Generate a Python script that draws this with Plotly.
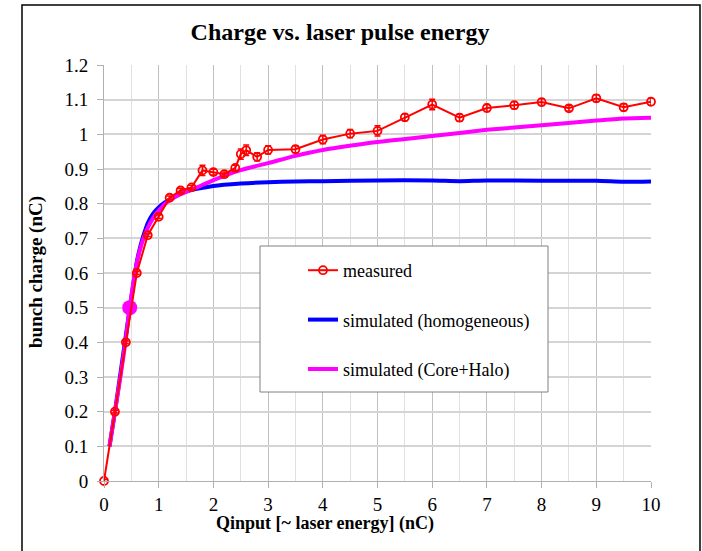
import plotly.graph_objects as go

# ---- data ----
meas_x = [0, 0.2, 0.4, 0.6, 0.8, 1.0, 1.2, 1.4, 1.6, 1.8, 2.0, 2.2, 2.4, 2.5, 2.6, 2.8,
          3.0, 3.5, 4.0, 4.5, 5.0, 5.5, 6.0, 6.5, 7.0, 7.5, 8.0, 8.5, 9.0, 9.5, 10.0]
meas_y = [0.0, 0.2, 0.4, 0.6, 0.709, 0.762, 0.817, 0.838, 0.847, 0.896, 0.891, 0.885, 0.903,
          0.943, 0.954, 0.935, 0.955, 0.957, 0.985, 1.002, 1.01, 1.049, 1.086, 1.048, 1.076,
          1.084, 1.093, 1.075, 1.104, 1.078, 1.094]
meas_err = [0.004, 0.004, 0.004, 0.004, 0.004, 0.005, 0.005, 0.006, 0.006, 0.015, 0.008, 0.006,
            0.008, 0.015, 0.015, 0.012, 0.012, 0.01, 0.012, 0.012, 0.015, 0.01, 0.015, 0.01,
            0.01, 0.01, 0.01, 0.008, 0.01, 0.01, 0.01]

hom_x = [0.1, 0.2, 0.3, 0.4, 0.5, 0.6, 0.65, 0.7, 0.75, 0.8, 0.9, 1.0, 1.1, 1.2, 1.5, 2.0,
         2.5, 3.0, 3.5, 4.0, 5.0, 6.0, 6.5, 7.0, 8.0, 9.0, 9.5, 10.0]
hom_y = [0.1, 0.2, 0.31, 0.42, 0.53, 0.632, 0.668, 0.697, 0.722, 0.744, 0.772, 0.789, 0.802,
         0.812, 0.835, 0.851, 0.858, 0.862, 0.864, 0.865, 0.867, 0.867, 0.865, 0.867, 0.866,
         0.866, 0.863, 0.864]

ch_x = [0.1, 0.2, 0.3, 0.4, 0.47, 0.6, 0.7, 0.8, 0.9, 1.0, 1.2, 1.4, 1.7, 2.0, 2.5, 3.0,
        3.5, 4.0, 5.0, 6.0, 7.0, 8.0, 9.0, 9.5, 10.0]
ch_y = [0.1, 0.2, 0.3, 0.41, 0.5, 0.63, 0.69, 0.73, 0.759, 0.78, 0.81, 0.827, 0.847, 0.868,
        0.897, 0.917, 0.938, 0.955, 0.978, 0.995, 1.013, 1.026, 1.04, 1.046, 1.048]
ch_mark_idx = 4

names = ["measured", "simulated (homogeneous)", "simulated (Core+Halo)"]
title = "Charge vs. laser pulse energy"
xlabel = "Qinput [~ laser energy] (nC)"
ylabel = "bunch charge (nC)"

# ---- layout geometry ----
W, H = 702, 551
L, R, T, B = 104, 651, 65, 481
def px(x):
    return (x - L) / (R - L)
def py(y):
    return (B - y) / (B - T)

FONT = "Liberation Serif"

fig = go.Figure()
fig.add_trace(go.Scatter(x=hom_x, y=hom_y, mode="lines", name=names[1],
                         line=dict(color="#0000ff", width=4, shape="spline", smoothing=0.6),
                         legendrank=2, legendgroup="b"))
fig.add_trace(go.Scatter(x=ch_x, y=ch_y, mode="lines", name=names[2],
                         line=dict(color="#ff00ff", width=4, shape="spline", smoothing=0.6),
                         legendrank=3, legendgroup="c"))
fig.add_trace(go.Scatter(x=[ch_x[ch_mark_idx]], y=[ch_y[ch_mark_idx]], mode="markers",
                         marker=dict(color="#ff00ff", size=15), showlegend=False))
fig.add_trace(go.Scatter(x=meas_x, y=meas_y, mode="lines+markers", name=names[0],
                         line=dict(color="#ff0000", width=2), cliponaxis=False,
                         marker=dict(symbol="circle-open", size=8, color="#ff0000",
                                     line=dict(width=1.8, color="#ff0000")),
                         error_y=dict(type="data", array=meas_err, color="#ff0000",
                                      thickness=1.5, width=3),
                         legendrank=1, legendgroup="a"))

fig.update_layout(
    width=W, height=H,
    margin=dict(l=L, r=W - R, t=T, b=H - B),
    paper_bgcolor="white", plot_bgcolor="white",
    font=dict(family=FONT, color="black", size=16),
    title=dict(text="<b>" + title + "</b>", x=340 / W, xref="container", xanchor="center",
               y=1 - 32 / H, yref="container", yanchor="middle",
               font=dict(family=FONT, size=24, color="black")),
    showlegend=True,
    legend=dict(x=px(303), y=py(252), xanchor="left", yanchor="top",
                bgcolor="rgba(0,0,0,0)", borderwidth=0,
                font=dict(family=FONT, size=18, color="black"),
                tracegroupgap=23, itemwidth=30),
)
fig.update_xaxes(range=[0, 10], dtick=1, tick0=0, showgrid=True, gridcolor="#c0c0c0",
                 gridwidth=1, zeroline=False, showline=True, linecolor="#b0b0b0",
                 ticks="outside", ticklen=6, tickcolor="#b0b0b0",
                 tickfont=dict(family=FONT, size=19, color="black"),
                 minor=dict(dtick=0.5, showgrid=True, gridcolor="#e0e0e0", gridwidth=1),
                 mirror=False)
fig.update_yaxes(range=[0, 1.2], dtick=0.1, tick0=0, showgrid=True, gridcolor="#d4d4d4",
                 gridwidth=1.5, zeroline=False, showline=True, linecolor="#b0b0b0",
                 ticks="outside", ticklen=6, tickcolor="#b0b0b0", ticklabelstandoff=5,
                 tickfont=dict(family=FONT, size=19, color="black"))

# legend box
fig.add_shape(type="rect", xref="paper", yref="paper",
              x0=px(260), x1=px(548), y0=py(392), y1=py(246),
              fillcolor="white", line=dict(color="#808080", width=1), layer="above")
# outer frame
fig.add_shape(type="rect", xref="paper", yref="paper",
              x0=px(22), x1=px(700), y0=py(560), y1=py(5),
              fillcolor="rgba(0,0,0,0)", line=dict(color="black", width=1.5), layer="above")

fig.add_annotation(text="<b>" + xlabel + "</b>", xref="paper", yref="paper",
                   x=px(325), y=py(523), showarrow=False, xanchor="center", yanchor="middle",
                   font=dict(family=FONT, size=18, color="black"))
fig.add_annotation(text="<b>" + ylabel + "</b>", xref="paper", yref="paper",
                   x=px(36), y=py(272), showarrow=False, textangle=-90,
                   xanchor="center", yanchor="middle",
                   font=dict(family=FONT, size=19, color="black"))

fig.write_html("out.html", config={"displayModeBar": False},
               post_script="document.body.style.margin='0px';")
